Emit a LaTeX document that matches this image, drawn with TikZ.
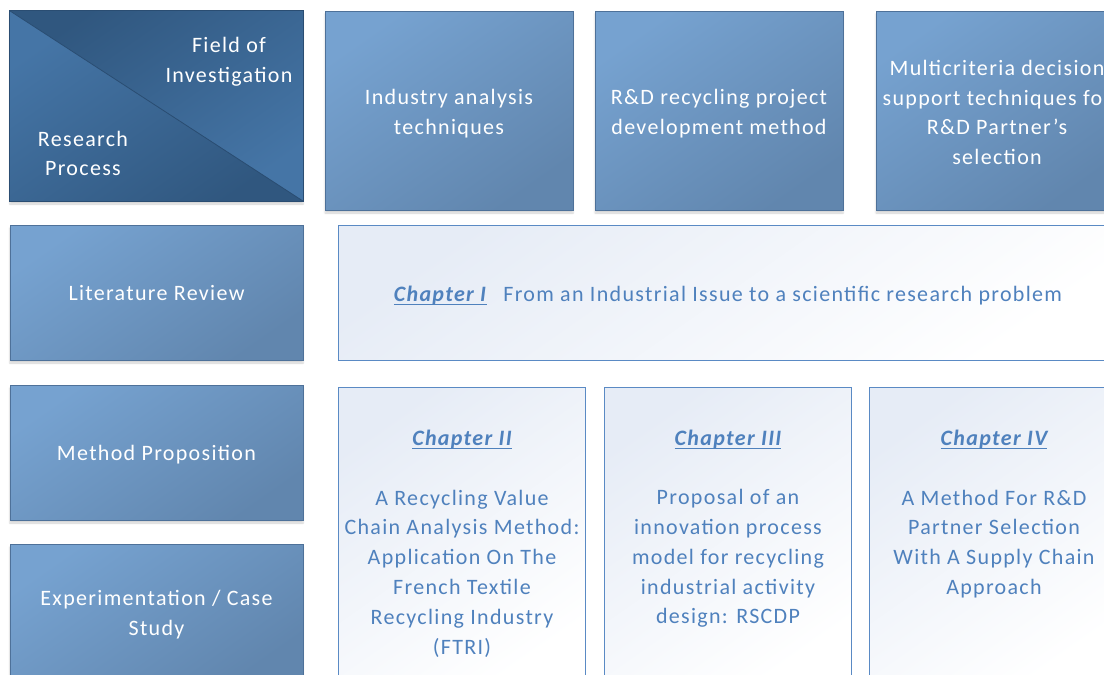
\documentclass[tikz,border=0pt]{standalone}
\usepackage{fontspec}
\setmainfont{Carlito}[LetterSpace=6]
\usetikzlibrary{shadows.blur}
\definecolor{bluetop}{HTML}{76A2D0}
\definecolor{bluebot}{HTML}{6186AE}
\definecolor{blueborder}{HTML}{4E7199}
\definecolor{lightborder}{HTML}{5A8AC4}
\definecolor{lighttop}{HTML}{E6ECF6}
\definecolor{chaptext}{HTML}{4F81BD}
\definecolor{darkA}{HTML}{30577F}
\definecolor{darkB}{HTML}{4575A6}
\definecolor{darkline}{HTML}{2A4D72}
\newcommand{\bodyfont}{\fontsize{22}{29.8}\selectfont}
\newcommand{\myul}[1]{\setbox0\hbox{#1}\leavevmode\rlap{\rule[-4pt]{\wd0}{1.3pt}}\box0}
\tikzset{
  sh/.style={blur shadow={shadow xshift=0pt, shadow yshift=-3pt, shadow blur steps=6, shadow opacity=18}},
  bluebox/.style={sh, draw=blueborder, line width=0.8pt, top color=bluetop, bottom color=bluebot, shading angle=35,
    inner sep=0pt},
  boxlabel/.style={inner sep=0pt, align=center, text=white, font=\bodyfont},
  lightbox/.style={draw=lightborder, line width=1pt, top color=lighttop, bottom color=white, shading angle=35,
    inner sep=0pt},
  chaptitle/.style={text=chaptext, font=\bodyfont\bfseries\itshape, inner sep=0pt},
  chapbody/.style={text=chaptext, align=center, font=\bodyfont, inner sep=0pt},
  cornertext/.style={text=white, align=center, font=\bodyfont, inner sep=0pt},
}
\begin{document}
\begin{tikzpicture}[x=1pt,y=-1pt]
\useasboundingbox (0,0) rectangle (1104,675);
\clip (0,0) rectangle (1104,675);
% corner box
\node[sh, fill=darkA, minimum width=293pt, minimum height=190pt, inner sep=0pt] (corner) at (156.5,106) {};
\shade[top color=darkA, bottom color=darkB, shading angle=35] (corner.north west) -- (corner.north east) -- (corner.south east) -- cycle;
\shade[top color=darkB, bottom color=darkA, shading angle=35] (corner.north west) -- (corner.south west) -- (corner.south east) -- cycle;
\draw[darkline, line width=0.8pt] (corner.north west) rectangle (corner.south east);
\draw[darkline, line width=0.8pt] (corner.north west) -- (corner.south east);
\node[cornertext] (field) at (229,61.5) {Field of\\Investigation};
\node[cornertext] (rproc) at (83,153.5) {Research\\Process};
% field boxes
\node[bluebox, minimum width=248pt, minimum height=199pt] (f1) at (449,110.5) {};
\node[bluebox, minimum width=248pt, minimum height=199pt] (f2) at (719,110.5) {};
\node[bluebox, minimum width=242pt, minimum height=199pt] (f3) at (997,110.5) {};
\node[boxlabel, yshift=-3pt] (f1t) at (f1) {Industry analysis\\techniques};
\node[boxlabel, yshift=-3pt] (f2t) at (f2) {R\&D recycling project\\development method};
\node[boxlabel, yshift=-2pt] (f3t) at (f3) {Multicriteria decision\\support techniques for\\R\&D Partner’s\\selection};
% row labels
\node[bluebox, minimum width=293pt, minimum height=135pt] (lit) at (156.5,292.5) {};
\node[bluebox, minimum width=293pt, minimum height=135pt] (meth) at (156.5,452.5) {};
\node[bluebox, minimum width=293pt, minimum height=138pt] (exp) at (156.5,613) {};
\node[boxlabel, yshift=-1pt] (litt) at (lit) {Literature Review};
\node[boxlabel, yshift=-2pt] (metht) at (meth) {Method Proposition};
\node[boxlabel, yshift=-1.5pt] (expt) at (exp) {Experimentation / Case\\Study};
% chapter I
\node[lightbox, minimum width=780pt, minimum height=135pt] (ch1) at (728,292.5) {};
\node[chapbody] (ch1t) at (728,295.5) {\myul{\textbf{\textit{Chapter I}}}\hspace{16pt}From an Industrial Issue to a scientific research problem};
% chapter II-IV boxes
\node[lightbox, minimum width=247pt, minimum height=300pt] (ch2) at (461.5,537) {};
\node[lightbox, minimum width=247pt, minimum height=300pt] (ch3) at (727.5,537) {};
\node[lightbox, minimum width=249pt, minimum height=300pt] (ch4) at (993.5,537) {};
\node[chaptitle] (ch2t) at (462,439.5) {\myul{Chapter II}};
\node[chaptitle] (ch3t) at (728,439.5) {\myul{Chapter III}};
\node[chaptitle] (ch4t) at (994,439.5) {\myul{Chapter IV}};
\node[chapbody] (ch2b) at (462,573.5) {A Recycling Value\\Chain Analysis Method:\\Application On The\\French Textile\\Recycling Industry\\(FTRI)};
\node[chapbody] (ch3b) at (728,558.5) {Proposal of an\\innovation process\\model for recycling\\industrial activity\\design: RSCDP};
\node[chapbody] (ch4b) at (994,544) {A Method For R\&D\\Partner Selection\\With A Supply Chain\\Approach};
\end{tikzpicture}
\end{document}
